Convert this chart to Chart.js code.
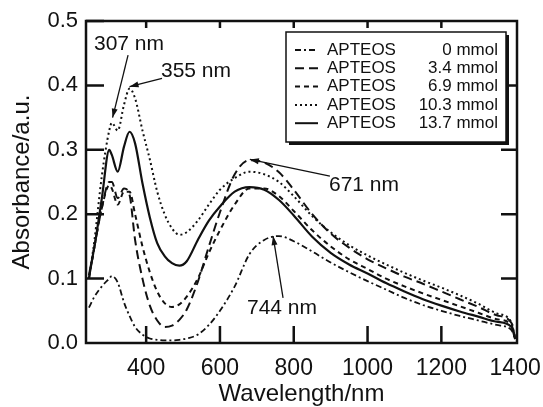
<!DOCTYPE html>
<html>
<head>
<meta charset="utf-8">
<script src="https://cdn.jsdelivr.net/npm/chart.js@4.4.0/dist/chart.umd.min.js"></script>
<style>
  html, body { margin: 0; padding: 0; background: #fff; }
  #wrap { width: 543px; height: 407px; }
</style>
</head>
<body>
<div id="wrap"><canvas id="spectra" width="543" height="407"></canvas></div>
<script>
// wavelength grid (nm)
const wavelengths = [245, 260, 280, 300, 307, 323, 340, 355, 370, 390, 410, 430, 450, 470, 490, 510, 540, 570, 600, 640, 680, 720, 760, 800, 850, 900, 950, 1000, 1050, 1100, 1150, 1200, 1250, 1300, 1350, 1390, 1400];

// absorbance for each APTEOS amount
const apteos0 = [0.055, 0.072, 0.088, 0.100, 0.104, 0.094, 0.063, 0.042, 0.025, 0.013, 0.007, 0.005, 0.004, 0.004, 0.005, 0.007, 0.013, 0.028, 0.050, 0.088, 0.138, 0.160, 0.166, 0.158, 0.142, 0.125, 0.110, 0.096, 0.083, 0.070, 0.059, 0.050, 0.042, 0.035, 0.028, 0.020, 0.006];
const apteos34 = [0.100, 0.150, 0.210, 0.250, 0.250, 0.225, 0.240, 0.230, 0.160, 0.100, 0.058, 0.035, 0.025, 0.027, 0.036, 0.052, 0.095, 0.150, 0.203, 0.262, 0.284, 0.280, 0.265, 0.238, 0.200, 0.170, 0.148, 0.130, 0.116, 0.103, 0.092, 0.080, 0.068, 0.056, 0.043, 0.031, 0.007];
const apteos69 = [0.100, 0.150, 0.210, 0.245, 0.240, 0.215, 0.235, 0.235, 0.200, 0.150, 0.110, 0.080, 0.062, 0.056, 0.060, 0.072, 0.100, 0.140, 0.175, 0.215, 0.240, 0.240, 0.228, 0.205, 0.175, 0.150, 0.130, 0.115, 0.100, 0.088, 0.077, 0.067, 0.057, 0.047, 0.037, 0.028, 0.007];
const apteos103 = [0.100, 0.160, 0.260, 0.330, 0.342, 0.330, 0.370, 0.395, 0.380, 0.330, 0.285, 0.235, 0.200, 0.178, 0.168, 0.172, 0.190, 0.215, 0.238, 0.256, 0.266, 0.262, 0.250, 0.228, 0.197, 0.172, 0.152, 0.136, 0.122, 0.109, 0.097, 0.086, 0.074, 0.061, 0.046, 0.032, 0.007];
const apteos137 = [0.105, 0.150, 0.225, 0.300, 0.292, 0.266, 0.305, 0.328, 0.310, 0.248, 0.195, 0.155, 0.135, 0.124, 0.120, 0.127, 0.160, 0.190, 0.212, 0.235, 0.242, 0.238, 0.222, 0.198, 0.165, 0.140, 0.122, 0.108, 0.093, 0.080, 0.068, 0.058, 0.049, 0.041, 0.033, 0.025, 0.006];

const amounts = ['0', '3.4', '6.9', '10.3', '13.7'];
const xTicks = [400, 600, 800, 1000, 1200, 1400];
const yTicks = [0, 0.1, 0.2, 0.3, 0.4, 0.5];

// peak marks: label, arrow tip (data), arrow tail (data)
const peakLabels = ['307 nm', '355 nm', '671 nm', '744 nm'];
const peakTips = [[309, 0.350], [355, 0.398], [681, 0.285], [744, 0.166]];
const peakTails = [[351, 0.447], [443, 0.411], [898, 0.259], [771, 0.070]];

const FONT = '"Liberation Sans", Arial, Helvetica, sans-serif';
const INK = '#111';

const dashes = [[6, 3, 2, 3], [9, 5], [5, 4], [2, 3], []];
const widths = [1.8, 2, 2, 2, 2.2];
const allSeries = [apteos0, apteos34, apteos69, apteos103, apteos137];

const datasets = allSeries.map((vals, i) => ({
  label: 'APTEOS ' + amounts[i] + ' mmol',
  data: wavelengths.map((w, j) => ({ x: w, y: vals[j] })),
  borderColor: INK,
  borderWidth: widths[i],
  borderDash: dashes[i],
  pointRadius: 0,
  fill: false,
  cubicInterpolationMode: 'monotone'
}));

function arrow(ctx, x1, y1, x2, y2) {
  ctx.beginPath();
  ctx.moveTo(x1, y1);
  ctx.lineTo(x2, y2);
  ctx.stroke();
  const a = Math.atan2(y2 - y1, x2 - x1);
  const len = 9, half = 3;
  ctx.beginPath();
  ctx.moveTo(x2, y2);
  ctx.lineTo(x2 - len * Math.cos(a) + half * Math.sin(a), y2 - len * Math.sin(a) - half * Math.cos(a));
  ctx.lineTo(x2 - len * Math.cos(a) - half * Math.sin(a), y2 - len * Math.sin(a) + half * Math.cos(a));
  ctx.closePath();
  ctx.fill();
}

// frame, inward ticks, legend, peak arrows
const decorPlugin = {
  id: 'decor',
  afterDatasetsDraw(chart) {
    const { ctx, chartArea: ca, scales: { x, y } } = chart;
    ctx.save();
    ctx.strokeStyle = INK;
    ctx.fillStyle = INK;
    ctx.lineWidth = 2.5;
    ctx.strokeRect(ca.left, ca.top, ca.right - ca.left, ca.bottom - ca.top);

    ctx.beginPath();
    yTicks.forEach(v => {
      const py = y.getPixelForValue(v);
      if (v > 0) { ctx.moveTo(ca.left, py); ctx.lineTo(ca.left + 18, py); }
      if (v > 0 && v < 0.5) { ctx.moveTo(ca.right, py); ctx.lineTo(ca.right - 16, py); }
    });
    xTicks.forEach(v => {
      if (v >= 1400) return;
      const px = x.getPixelForValue(v);
      ctx.moveTo(px, ca.bottom); ctx.lineTo(px, ca.bottom - 17);
      ctx.moveTo(px, ca.top); ctx.lineTo(px, ca.top + 7);
    });
    ctx.stroke();

    // peak annotations
    ctx.lineWidth = 1.3;
    ctx.font = '21px ' + FONT;
    ctx.textBaseline = 'middle';
    ctx.textAlign = 'left';
    const textPos = [[94, 44], [161, 71], [329, 185], [247, 308]];
    peakLabels.forEach((t, i) => {
      const tail = [x.getPixelForValue(peakTails[i][0]), y.getPixelForValue(peakTails[i][1])];
      const tip = [x.getPixelForValue(peakTips[i][0]), y.getPixelForValue(peakTips[i][1])];
      arrow(ctx, tail[0], tail[1], tip[0], tip[1]);
      ctx.fillText(t, textPos[i][0], textPos[i][1]);
    });

    // legend box with drop shadow
    const lx = 286, ly = 32, lw = 220, lh = 110;
    ctx.fillRect(lx + 3, ly + 3, lw, lh);
    ctx.fillStyle = '#fff';
    ctx.fillRect(lx, ly, lw, lh);
    ctx.lineWidth = 1.5;
    ctx.strokeRect(lx, ly, lw, lh);
    ctx.fillStyle = INK;
    ctx.font = '17px ' + FONT;
    datasets.forEach((ds, i) => {
      const ry = 50 + i * 18.3;
      ctx.save();
      ctx.lineWidth = 2;
      ctx.setLineDash(dashes[i]);
      ctx.beginPath();
      ctx.moveTo(295, ry);
      ctx.lineTo(318, ry);
      ctx.stroke();
      ctx.restore();
      ctx.textAlign = 'left';
      ctx.fillText('APTEOS', 327, ry);
      ctx.textAlign = 'right';
      ctx.fillText(amounts[i] + ' mmol', 498, ry);
    });
    ctx.restore();
  }
};

Chart.defaults.font.family = FONT;
Chart.defaults.color = INK;

const chart = new Chart(document.getElementById('spectra').getContext('2d'), {
  type: 'line',
  data: { datasets: datasets },
  options: {
    responsive: false,
    animation: false,
    devicePixelRatio: 1,
    layout: { padding: { top: 21, right: 26, left: 0, bottom: 0 } },
    plugins: { legend: { display: false }, tooltip: { enabled: false } },
    scales: {
      x: {
        type: 'linear',
        min: 237,
        max: 1405,
        afterBuildTicks: s => { s.ticks = xTicks.map(v => ({ value: v })); },
        afterFit: s => { s.height = 64; s.paddingLeft = 0; s.paddingRight = 0; },
        grid: { display: false, drawTicks: false },
        border: { display: false },
        ticks: { font: { size: 23 }, padding: 12, maxRotation: 0, autoSkip: false, callback: v => String(v) },
        title: { display: true, text: 'Wavelength/nm', font: { size: 24, lineHeight: 1 }, padding: { top: 0, bottom: 1 } }
      },
      y: {
        min: 0,
        max: 0.5,
        afterBuildTicks: s => { s.ticks = yTicks.map(v => ({ value: v })); },
        afterFit: s => { s.width = 86; s.paddingTop = 0; s.paddingBottom = 0; },
        grid: { display: false, drawTicks: false },
        border: { display: false },
        ticks: { font: { size: 22 }, padding: 8, callback: v => v.toFixed(1) },
        title: { display: true, text: 'Absorbance/a.u.', font: { size: 24, lineHeight: 1 }, padding: { top: 10, bottom: 0 } }
      }
    }
  },
  plugins: [decorPlugin]
});
</script>
</body>
</html>
